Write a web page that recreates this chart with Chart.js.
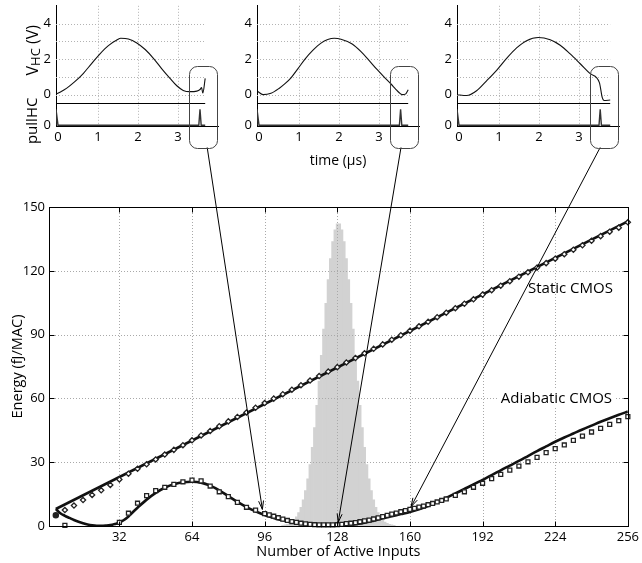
<!DOCTYPE html>
<html>
<head>
<meta charset="utf-8">
<script src="https://cdn.jsdelivr.net/npm/chart.js@4.4.1/dist/chart.umd.min.js"></script>
<style>
  html, body { margin: 0; padding: 0; background: #fff; }
  #wrap { position: relative; width: 642px; height: 563px; overflow: hidden; }
  #wrap canvas { position: absolute; }
</style>
</head>
<body>
<div id="wrap">
  <canvas id="main" width="642" height="563" style="left:0;top:0;width:642px;height:563px"></canvas>
  <canvas id="inset0" width="230" height="182" style="left:0px;top:-7px;width:230px;height:182px"></canvas>
  <canvas id="inset1" width="230" height="182" style="left:201px;top:-7px;width:230px;height:182px"></canvas>
  <canvas id="inset2" width="230" height="182" style="left:401px;top:-7px;width:230px;height:182px"></canvas>
</div>
<script>
// Energy per MAC vs number of active inputs, with three V_HC waveform insets

// ===== main plot data =====
const X_TICKS = [32, 64, 96, 128, 160, 192, 224, 256];
const Y_TICKS = [0, 30, 60, 90, 120, 150];

// distribution of active inputs (gray histogram)
const histX = [104, 105, 106, 107, 108, 109, 110, 111, 112, 113, 114, 115, 116, 117, 118, 119, 120, 121, 122, 123, 124, 125, 126, 127, 128,
  129, 130, 131, 132, 133, 134, 135, 136, 137, 138, 139, 140, 141, 142, 143, 144, 145, 146, 147, 148, 149, 150, 151, 152, 153];
const histY = [0.3, 0.5, 0.8, 1.3, 1.9, 2.9, 4.3, 6.3, 8.8, 12.3, 16.7, 22.2, 28.9, 37.0, 46.3, 56.7, 68.2, 80.3, 92.6, 104.7, 115.9, 125.7, 133.7, 139.3, 142.1,
  142.1, 139.3, 133.7, 125.7, 115.9, 104.7, 92.6, 80.3, 68.2, 56.7, 46.3, 37.0, 28.9, 22.2, 16.7, 12.3, 8.8, 6.3, 4.3, 2.9, 1.9, 1.3, 0.8, 0.5, 0.3];

// static CMOS: model line + measured (diamonds)
const staticLineX = [4, 256];
const staticLineY = [8.0, 143.2];
const staticX = [8, 12, 16, 20, 24, 28, 32, 36, 40, 44, 48, 52, 56, 60, 64, 68, 72, 76, 80, 84, 88, 92, 96, 100, 104, 108, 112, 116, 120, 124, 128,
  132, 136, 140, 144, 148, 152, 156, 160, 164, 168, 172, 176, 180, 184, 188, 192, 196, 200, 204, 208, 212, 216, 220, 224, 228, 232, 236, 240, 244, 248, 252, 256];
const staticY = [7.5, 9.6, 12.2, 14.6, 16.8, 19.3, 21.9, 24.6, 26.9, 29.0, 31.3, 33.6, 35.8, 38.0, 40.3, 42.6, 44.7, 46.9, 49.2, 51.3, 53.4, 55.6, 57.8, 59.9, 62.0, 64.1, 66.2, 68.4, 70.5, 72.6, 74.7,
  76.9, 79.0, 81.2, 83.3, 85.4, 87.6, 89.7, 91.8, 93.9, 96.0, 98.2, 100.3, 102.4, 104.5, 106.6, 108.8, 110.9, 113.0, 115.1, 117.2, 119.3, 121.5, 123.6, 125.7, 127.8, 129.9, 132.0, 134.1, 136.3, 138.4, 140.3, 142.8];

// adiabatic CMOS: model curve + measured (squares)
const adiaLineX = [4, 6, 8, 10, 12, 14, 16, 18, 20, 22, 24, 26, 28, 30, 32, 34, 36, 38, 40, 44, 48, 52, 56, 60, 64, 68, 72, 76, 80,
  84, 88, 92, 96, 100, 104, 108, 112, 116, 120, 124, 128, 132, 136, 140, 144, 148, 152, 156, 160, 164, 168, 172, 176, 180,
  184, 188, 192, 196, 200, 204, 208, 212, 216, 220, 224, 228, 232, 236, 240, 244, 248, 252, 256];
const adiaLineY = [8.0, 6.0, 4.8, 3.8, 2.8, 2.0, 1.3, 0.7, 0.3, 0.1, 0.1, 0.2, 0.4, 0.9, 1.6, 2.8, 4.5, 6.6, 8.6, 12.4, 15.6, 18.0, 19.6, 20.6, 20.8, 20.4, 19.0, 16.8, 14.0,
  11.3, 8.9, 6.9, 5.2, 3.8, 2.7, 1.8, 1.1, 0.6, 0.3, 0.1, 0.1, 0.3, 0.8, 1.5, 2.5, 3.6, 4.6, 5.6, 6.6, 7.9, 9.4, 11.2, 13.2, 15.3,
  17.4, 19.5, 21.7, 23.9, 26.2, 28.4, 30.6, 32.9, 35.2, 37.4, 39.6, 41.6, 43.5, 45.4, 47.2, 49.0, 50.7, 52.3, 53.8];
const adiaX = [4, 8, 32, 36, 40, 44, 48, 52, 56, 60, 64, 68, 72, 76, 80, 84, 88, 92,
  96, 98, 100, 102, 104, 106, 108, 110, 112, 114, 116, 118, 120, 122, 124, 126, 128, 130, 132, 134, 136, 138, 140,
  142, 144, 146, 148, 150, 152, 154, 156, 158, 160, 162, 164, 166, 168, 170, 172, 174, 176,
  180, 184, 188, 192, 196, 200, 204, 208, 212, 216, 220, 224, 228, 232, 236, 240, 244, 248, 252, 256];
const adiaY = [5.0, 0.3, 1.7, 6.0, 10.7, 14.3, 16.6, 18.2, 19.6, 20.8, 21.6, 21.2, 18.8, 16.1, 13.8, 11.1, 8.8, 7.5,
  5.8, 5.2, 4.6, 3.9, 3.2, 2.6, 2.1, 1.7, 1.3, 1.0, 0.8, 0.6, 0.5, 0.5, 0.5, 0.5, 0.6, 0.8, 1.1, 1.3, 1.6, 2.0, 2.4,
  2.8, 3.3, 3.8, 4.4, 5.0, 5.6, 6.1, 6.7, 7.2, 7.8, 8.3, 8.9, 9.4, 10.0, 10.6, 11.3, 12.0, 12.7,
  14.4, 16.1, 18.2, 20.1, 22.3, 24.3, 26.3, 28.2, 30.2, 32.3, 34.5, 36.4, 38.1, 40.3, 42.3, 44.2, 45.9, 47.8, 49.5, 51.4];

// ===== inset data (time in us) =====
const INSET_T_TICKS = [0, 1, 2, 3];
const INSET_V_TICKS = [0, 1, 2, 3, 4];
const vhcT1 = [-0.05, 0.05, 0.22, 0.42, 0.63, 0.84, 1.05, 1.26, 1.47, 1.57, 1.76, 1.97, 2.18, 2.38, 2.59, 2.80, 2.97, 3.13, 3.30, 3.47, 3.55, 3.59, 3.62, 3.68];
const vhcV1 = [0.03, 0.14, 0.37, 0.73, 1.19, 1.75, 2.30, 2.76, 3.07, 3.17, 3.13, 2.91, 2.54, 2.06, 1.47, 0.92, 0.50, 0.24, 0.17, 0.20, 0.29, 0.40, 0.09, 0.92];
const vhcT2 = [-0.03, 0.1, 0.3, 0.5, 0.65, 0.8, 0.97, 1.15, 1.35, 1.55, 1.72, 1.88, 2.05, 2.33, 2.55, 2.75, 2.95, 3.16, 3.3, 3.41, 3.5, 3.58, 3.66, 3.73];
const vhcV2 = [0.18, 0.0, 0.08, 0.35, 0.62, 0.95, 1.45, 2.0, 2.5, 2.9, 3.1, 3.17, 3.12, 2.85, 2.42, 1.93, 1.42, 0.92, 0.6, 0.33, 0.12, 0.0, 0.03, 0.28];
const vhcT3 = [-0.06, 0.19, 0.44, 0.69, 0.94, 1.19, 1.44, 1.69, 1.98, 2.28, 2.53, 2.78, 3.03, 3.28, 3.51, 3.58, 3.63, 3.78];
const vhcV3 = [0.0, -0.05, 0.22, 0.78, 1.37, 2.04, 2.63, 3.04, 3.22, 3.09, 2.78, 2.29, 1.74, 1.18, 0.68, -0.15, -0.33, -0.3];
const pullT1 = [-0.05, -0.05, 0.0, 3.52, 3.55, 3.58, 3.68];
const pullT2 = [-0.05, -0.05, 0.0, 3.51, 3.54, 3.57, 3.73];
const pullT3 = [-0.05, -0.05, 0.0, 3.50, 3.53, 3.56, 3.78];
const pullV = [0, 1, 0, 0, 1, 0, 0];

// zoom box in each inset (t range, V range) and where the arrows go
const BOX_T = [3.27, 3.96];
const BOX_V = [1.62, -2.97];
const arrowFromT = [3.73, 3.55, 3.53];
const arrowToX = [95, 128.4, 160.5];
const arrowToY = [7.8, 1.7, 9.1];

const INSET_LEFT = [0, 201, 401];
const INSET_TOP = -7;

Chart.defaults.font.family = '"Open Sans", "DejaVu Sans", sans-serif';
Chart.defaults.color = '#000';

const pts = (xs, ys) => xs.map((x, i) => ({ x, y: ys[i] }));

// ===== inset drawing helpers =====
const insetDeco = {
  id: 'insetDeco',
  beforeDatasetsDraw(chart, args, opts) {
    const { ctx, chartArea: a, scales: { x, y } } = chart;
    const xEnd = x.getPixelForValue(opts.tEnd);
    ctx.save();
    ctx.strokeStyle = '#b3b3b3';
    ctx.lineWidth = 1;
    ctx.setLineDash([1, 2]);
    ctx.beginPath();
    INSET_V_TICKS.forEach((v) => {
      const py = Math.round(y.getPixelForValue(v)) + 0.5;
      ctx.moveTo(a.left, py);
      ctx.lineTo(xEnd, py);
    });
    ctx.stroke();
    ctx.restore();
  },
  afterDraw(chart, args, opts) {
    const { ctx, chartArea: a, scales: { x, y } } = chart;
    ctx.save();
    // bottom edge of the V_HC axes
    const sy = Math.round(y.bottom) + 0.5;
    ctx.strokeStyle = '#000';
    ctx.lineWidth = 1;
    ctx.beginPath();
    ctx.moveTo(a.left, sy);
    ctx.lineTo(x.getPixelForValue(opts.tEnd), sy);
    ctx.stroke();
    // rounded zoom box
    const x1 = x.getPixelForValue(BOX_T[0]), x2 = x.getPixelForValue(BOX_T[1]);
    const y1 = y.getPixelForValue(BOX_V[0]), y2 = y.getPixelForValue(BOX_V[1]);
    ctx.strokeStyle = '#444';
    ctx.beginPath();
    ctx.roundRect(Math.round(x1) + 0.5, Math.round(y1) + 0.5, Math.round(x2 - x1), Math.round(y2 - y1), 8);
    ctx.stroke();
    if (opts.labels) {
      const upMid = (y.top + y.getPixelForValue(0)) / 2;
      const lowMid = y.bottom + 18;
      ctx.fillStyle = '#000';
      ctx.textBaseline = 'middle';
      // V_HC (V)
      ctx.save();
      ctx.translate(a.left - 23, upMid);
      ctx.rotate(-Math.PI / 2);
      const f1 = '16px "Open Sans", sans-serif', f2 = '13px "Open Sans", sans-serif';
      ctx.font = f1; const wV = ctx.measureText('V').width, wU = ctx.measureText(' (V)').width;
      ctx.font = f2; const wS = ctx.measureText('HC').width;
      let cx = -(wV + wS + wU) / 2;
      ctx.font = f1; ctx.textAlign = 'left';
      ctx.fillText('V', cx, 0); cx += wV;
      ctx.font = f2; ctx.fillText('HC', cx, 3); cx += wS;
      ctx.font = f1; ctx.fillText(' (V)', cx, 0);
      ctx.restore();
      // pullHC
      ctx.save();
      ctx.translate(a.left - 23, lowMid);
      ctx.rotate(-Math.PI / 2);
      ctx.font = '15px "Open Sans", sans-serif';
      ctx.textAlign = 'center';
      ctx.fillText('pullHC', 0, 0);
      ctx.restore();
    }
    ctx.restore();
  },
};

function makeInset(canvasId, vT, vV, pT, withLabels, withTitle) {
  return new Chart(document.getElementById(canvasId), {
    type: 'line',
    data: {
      datasets: [
        { data: pts(vT, vV), yAxisID: 'y', borderColor: '#111', borderWidth: 1.1, pointRadius: 0, cubicInterpolationMode: 'monotone' },
        { data: pts(pT, pullV), yAxisID: 'y2', borderColor: '#333', borderWidth: 1.4, pointRadius: 0, tension: 0 },
      ],
    },
    options: {
      responsive: false,
      animation: false,
      events: [],
      layout: { padding: { top: 10, right: 12, left: 0, bottom: 0 }, autoPadding: false },
      plugins: {
        legend: { display: false },
        tooltip: { enabled: false },
        insetDeco: { tEnd: vT[vT.length - 1], labels: withLabels },
      },
      scales: {
        x: {
          type: 'linear', min: -0.05, max: 4.0,
          afterBuildTicks: (s) => { s.ticks = INSET_T_TICKS.map((v) => ({ value: v })); },
          afterFit: (s) => { s.height = 49; },
          grid: { color: (c) => (c.tick && c.tick.value === 0 ? 'rgba(0,0,0,0)' : '#b3b3b3'), drawTicks: false },
          border: { color: '#000', dash: [1, 2] },
          ticks: { padding: 3, font: { size: 13 }, autoSkip: false, maxRotation: 0 },
          title: { display: withTitle, text: 'time (µs)', font: { size: 14 }, padding: { top: 0, bottom: 6 } },
        },
        // pull-up pulse axis (bottom strip), listed first so the stack puts it below
        y2: {
          type: 'linear', position: 'left', stack: 'v', stackWeight: 1, min: -0.05, max: 1.4,
          afterBuildTicks: (s) => { s.ticks = [{ value: 0 }]; },
          afterFit: (s) => { s.width = 56; },
          grid: { display: false, drawTicks: false },
          border: { color: '#000' },
          ticks: { padding: 5, font: { size: 13 } },
        },
        y: {
          type: 'linear', position: 'left', stack: 'v', stackWeight: 4.19, min: -0.46, max: 5,
          afterBuildTicks: (s) => { s.ticks = INSET_V_TICKS.map((v) => ({ value: v })); },
          afterFit: (s) => { s.width = 56; },
          grid: { display: false, drawTicks: false },
          border: { color: '#000' },
          ticks: { padding: 5, font: { size: 13 } },
        },
      },
    },
    plugins: [insetDeco],
  });
}

const insets = [
  makeInset('inset0', vhcT1, vhcV1, pullT1, true, false),
  makeInset('inset1', vhcT2, vhcV2, pullT2, false, true),
  makeInset('inset2', vhcT3, vhcV3, pullT3, false, false),
];

// ===== main chart =====
function drawArrow(ctx, sx, sy, ex, ey) {
  ctx.beginPath();
  ctx.moveTo(sx, sy);
  ctx.lineTo(ex, ey);
  ctx.stroke();
  const ang = Math.atan2(ey - sy, ex - sx), L = 9, w = 0.28;
  ctx.beginPath();
  ctx.moveTo(ex - L * Math.cos(ang - w), ey - L * Math.sin(ang - w));
  ctx.lineTo(ex, ey);
  ctx.lineTo(ex - L * Math.cos(ang + w), ey - L * Math.sin(ang + w));
  ctx.stroke();
}

const STATIC_LABEL = { text: 'Static CMOS', x: 212, y: 111.5 };
const ADIA_LABEL = { text: 'Adiabatic CMOS', x: 200, y: 60 };

const mainDeco = {
  id: 'mainDeco',
  afterDatasetDraw(chart, args) {
    if (args.index !== 0) return; // grid goes over the histogram, under the lines
    const { ctx, chartArea: a, scales: { x, y } } = chart;
    ctx.save();
    ctx.strokeStyle = '#a9a9a9';
    ctx.lineWidth = 1;
    ctx.setLineDash([1, 2]);
    ctx.beginPath();
    X_TICKS.slice(0, -1).forEach((v) => {
      const px = Math.round(x.getPixelForValue(v)) + 0.5;
      ctx.moveTo(px, a.top); ctx.lineTo(px, a.bottom);
    });
    Y_TICKS.slice(1, -1).forEach((v) => {
      const py = Math.round(y.getPixelForValue(v)) + 0.5;
      ctx.moveTo(a.left, py); ctx.lineTo(a.right, py);
    });
    ctx.stroke();
    ctx.restore();
  },
  afterDraw(chart) {
    const { ctx, chartArea: a, scales: { x, y } } = chart;
    ctx.save();
    ctx.strokeStyle = '#000';
    ctx.lineWidth = 1;
    const L = Math.round(a.left) + 0.5, R = Math.round(a.right) + 0.5;
    const T = Math.round(a.top) + 0.5, B = Math.round(a.bottom) + 0.5;
    ctx.strokeRect(L, T, R - L, B - T);
    // inner tick marks
    ctx.beginPath();
    X_TICKS.slice(0, -1).forEach((v) => {
      const px = Math.round(x.getPixelForValue(v)) + 0.5;
      ctx.moveTo(px, B); ctx.lineTo(px, B - 5);
      ctx.moveTo(px, T); ctx.lineTo(px, T + 5);
    });
    Y_TICKS.slice(1, -1).forEach((v) => {
      const py = Math.round(y.getPixelForValue(v)) + 0.5;
      ctx.moveTo(L, py); ctx.lineTo(L + 5, py);
      ctx.moveTo(R, py); ctx.lineTo(R - 5, py);
    });
    ctx.stroke();

    // series labels
    ctx.font = '15px "Open Sans", sans-serif';
    ctx.textBaseline = 'middle';
    ctx.textAlign = 'left';
    const ax = x.getPixelForValue(ADIA_LABEL.x), ay = y.getPixelForValue(ADIA_LABEL.y);
    const aw = ctx.measureText(ADIA_LABEL.text).width;
    ctx.fillStyle = '#fff';
    ctx.fillRect(ax - 2, ay - 9, aw + 4, 18);
    ctx.fillStyle = '#000';
    ctx.fillText(ADIA_LABEL.text, ax, ay);
    ctx.fillText(STATIC_LABEL.text, x.getPixelForValue(STATIC_LABEL.x), y.getPixelForValue(STATIC_LABEL.y));

    // arrows from the inset zoom boxes
    ctx.lineWidth = 1;
    insets.forEach((ic, i) => {
      const sx = INSET_LEFT[i] + ic.scales.x.getPixelForValue(arrowFromT[i]);
      const sy = INSET_TOP + ic.scales.y.getPixelForValue(BOX_V[1]);
      drawArrow(ctx, sx, sy, x.getPixelForValue(arrowToX[i]), y.getPixelForValue(arrowToY[i]));
    });
    ctx.restore();
  },
};

new Chart(document.getElementById('main'), {
  type: 'line',
  data: {
    datasets: [
      { type: 'bar', data: pts(histX, histY), backgroundColor: '#d2d2d2', borderWidth: 0,
        barPercentage: 1, categoryPercentage: 1, order: 5 },
      { data: pts(staticLineX, staticLineY), borderColor: '#111', borderWidth: 2.6, pointRadius: 0, order: 2 },
      { data: pts(adiaLineX, adiaLineY), borderColor: '#111', borderWidth: 2.6, pointRadius: 0,
        cubicInterpolationMode: 'monotone', order: 2 },
      { data: pts(staticX, staticY), showLine: false, pointStyle: 'rectRot', pointRadius: 2.6,
        pointBorderWidth: 1.3, pointBorderColor: '#222', pointBackgroundColor: '#fff', clip: 6, order: 1 },
      { data: pts(adiaX, adiaY), showLine: false,
        pointStyle: (c) => (c.dataIndex === 0 ? 'circle' : 'rect'),
        pointRadius: (c) => (c.dataIndex === 0 ? 2.6 : 2.8),
        pointBorderWidth: 1.3, pointBorderColor: '#222',
        pointBackgroundColor: (c) => (c.dataIndex === 0 ? '#222' : '#fff'), clip: 6, order: 1 },
    ],
  },
  options: {
    responsive: false,
    animation: false,
    events: [],
    layout: { padding: { top: 207, right: 9, left: 0, bottom: 0 }, autoPadding: false },
    plugins: { legend: { display: false }, tooltip: { enabled: false } },
    scales: {
      x: {
        type: 'linear', min: 1, max: 256, offset: false,
        afterBuildTicks: (s) => { s.ticks = X_TICKS.map((v) => ({ value: v })); },
        afterFit: (s) => { s.height = 37; },
        grid: { display: false, drawTicks: false, offset: false },
        border: { display: false },
        ticks: { padding: 3, font: { size: 13 }, autoSkip: false, maxRotation: 0 },
        title: { display: true, text: 'Number of Active Inputs', font: { size: 14.5 }, padding: { top: 0, bottom: 2 } },
      },
      y: {
        type: 'linear', min: 0, max: 150,
        afterBuildTicks: (s) => { s.ticks = Y_TICKS.map((v) => ({ value: v })); },
        afterFit: (s) => { s.width = 49; },
        grid: { display: false, drawTicks: false },
        border: { display: false },
        ticks: { padding: 4, font: { size: 13 } },
        title: { display: true, text: 'Energy (fJ/MAC)', font: { size: 14.5 }, padding: { top: 9, bottom: 0 } },
      },
    },
  },
  plugins: [mainDeco],
});
</script>
</body>
</html>
